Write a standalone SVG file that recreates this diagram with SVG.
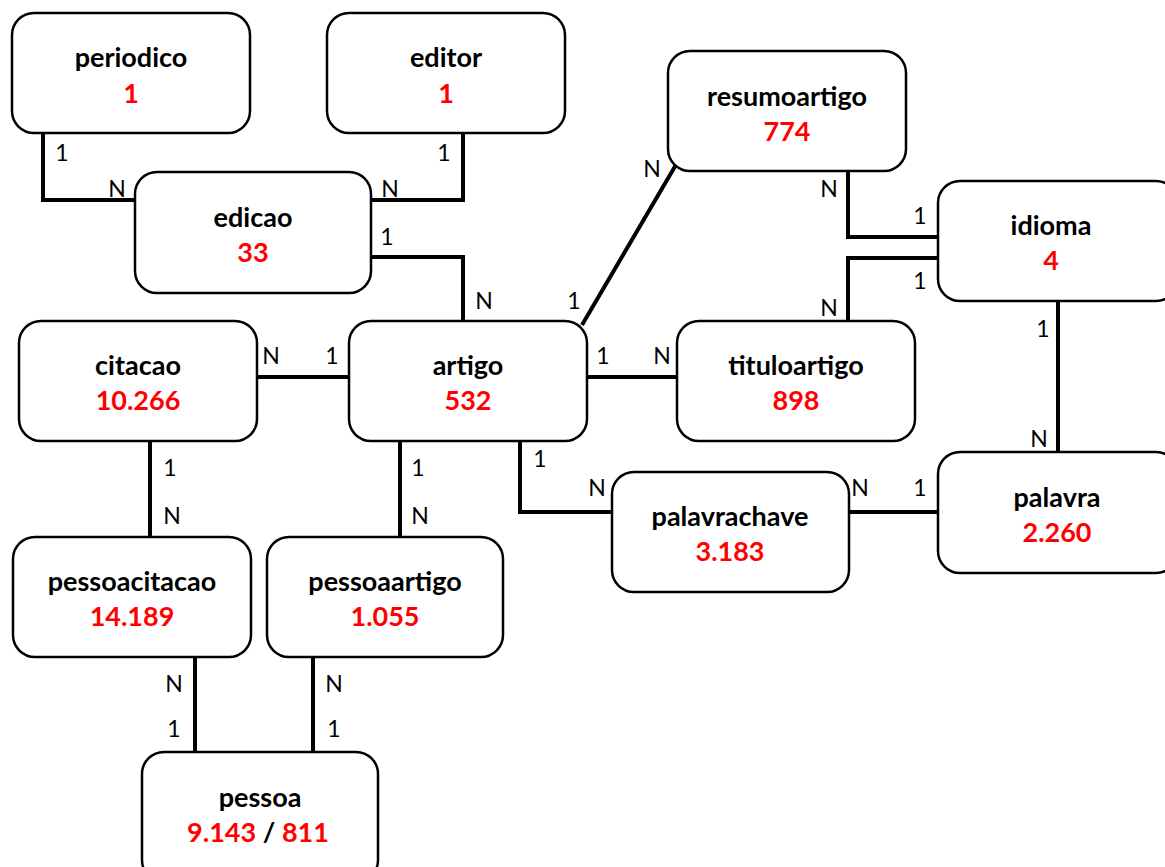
<svg xmlns="http://www.w3.org/2000/svg" width="1165" height="867" viewBox="0 0 1165 867">
<style>
.box{fill:#fff;stroke:#000;stroke-width:2.5}
.nm{font-family:Lato,"Open Sans",sans-serif;font-weight:bold;font-size:27px;fill:#000;text-anchor:middle}
.num{font-family:Lato,"Open Sans",sans-serif;font-weight:bold;font-size:27px;fill:#ff0000;text-anchor:middle}
.c{fill:none;stroke:#000;stroke-width:4}
.lb{font-family:Lato,"Open Sans",sans-serif;font-size:23px;fill:#000;text-anchor:middle}
</style>
<rect width="1165" height="867" fill="#fff"/>
<g id="connectors">
<polyline class="c" points="43,133 43,200 135,200"/>
<polyline class="c" points="463,133 463,200 371,200"/>
<polyline class="c" points="371,257 463,257 463,321"/>
<line class="c" x1="582" y1="325" x2="677" y2="163"/>
<polyline class="c" points="848,171 848,237 938,237"/>
<polyline class="c" points="848,321 848,258 938,258"/>
<line class="c" x1="1058" y1="301" x2="1058" y2="452"/>
<line class="c" x1="257" y1="377" x2="349" y2="377"/>
<line class="c" x1="587" y1="377" x2="677" y2="377"/>
<line class="c" x1="150" y1="441" x2="150" y2="537"/>
<line class="c" x1="400" y1="441" x2="400" y2="537"/>
<polyline class="c" points="520,441 520,512 612,512"/>
<line class="c" x1="849" y1="512" x2="938" y2="512"/>
<line class="c" x1="195" y1="657" x2="195" y2="752"/>
<line class="c" x1="313" y1="657" x2="313" y2="752"/>
<text class="lb" x="62" y="161">1</text>
<text class="lb" x="117" y="197">N</text>
<text class="lb" x="444" y="161">1</text>
<text class="lb" x="390" y="197">N</text>
<text class="lb" x="387" y="245">1</text>
<text class="lb" x="484" y="309">N</text>
<text class="lb" x="574" y="309">1</text>
<text class="lb" x="652" y="177">N</text>
<text class="lb" x="829" y="197">N</text>
<text class="lb" x="920" y="224">1</text>
<text class="lb" x="920" y="289">1</text>
<text class="lb" x="829" y="316">N</text>
<text class="lb" x="1043" y="337">1</text>
<text class="lb" x="1039" y="447">N</text>
<text class="lb" x="271" y="364">N</text>
<text class="lb" x="332" y="364">1</text>
<text class="lb" x="603" y="364">1</text>
<text class="lb" x="662" y="364">N</text>
<text class="lb" x="170" y="476">1</text>
<text class="lb" x="172" y="524">N</text>
<text class="lb" x="418" y="476">1</text>
<text class="lb" x="420" y="524">N</text>
<text class="lb" x="540" y="467">1</text>
<text class="lb" x="597" y="496">N</text>
<text class="lb" x="860" y="496">N</text>
<text class="lb" x="920" y="496">1</text>
<text class="lb" x="174" y="692">N</text>
<text class="lb" x="174" y="737">1</text>
<text class="lb" x="334" y="692">N</text>
<text class="lb" x="334" y="737">1</text>
</g>
<g id="periodico"><rect class="box" x="12" y="13" width="238" height="120" rx="22"/><text class="nm" x="131" y="67">periodico</text><text class="num" x="131" y="103">1</text></g>
<g id="editor"><rect class="box" x="327" y="13" width="238" height="120" rx="22"/><text class="nm" x="446" y="67">editor</text><text class="num" x="446" y="103">1</text></g>
<g id="edicao"><rect class="box" x="135" y="172" width="236" height="121" rx="22"/><text class="nm" x="253" y="227">edicao</text><text class="num" x="253" y="262">33</text></g>
<g id="resumoartigo"><rect class="box" x="668" y="51" width="238" height="120" rx="22"/><text class="nm" x="787" y="106">resumoartigo</text><text class="num" x="787" y="141">774</text></g>
<g id="idioma"><rect class="box" x="938" y="181" width="240" height="120" rx="22"/><text class="nm" x="1051" y="235">idioma</text><text class="num" x="1051" y="270">4</text></g>
<g id="citacao"><rect class="box" x="19" y="321" width="238" height="120" rx="22"/><text class="nm" x="138" y="375">citacao</text><text class="num" x="138" y="410">10.266</text></g>
<g id="artigo"><rect class="box" x="349" y="321" width="238" height="120" rx="22"/><text class="nm" x="468" y="375">artigo</text><text class="num" x="468" y="410">532</text></g>
<g id="tituloartigo"><rect class="box" x="677" y="321" width="238" height="120" rx="22"/><text class="nm" x="796" y="375">tituloartigo</text><text class="num" x="796" y="410">898</text></g>
<g id="palavrachave"><rect class="box" x="612" y="472" width="237" height="120" rx="22"/><text class="nm" x="730" y="526">palavrachave</text><text class="num" x="730" y="561">3.183</text></g>
<g id="palavra"><rect class="box" x="938" y="452" width="240" height="121" rx="22"/><text class="nm" x="1057" y="507">palavra</text><text class="num" x="1057" y="542">2.260</text></g>
<g id="pessoacitacao"><rect class="box" x="13" y="537" width="238" height="120" rx="22"/><text class="nm" x="132" y="591">pessoacitacao</text><text class="num" x="132" y="626">14.189</text></g>
<g id="pessoaartigo"><rect class="box" x="267" y="537" width="236" height="120" rx="22"/><text class="nm" x="385" y="591">pessoaartigo</text><text class="num" x="385" y="626">1.055</text></g>
<g id="pessoa"><rect class="box" x="142" y="752" width="236" height="130" rx="22"/><text class="nm" x="260" y="807">pessoa</text><text class="nm" x="258" y="842"><tspan fill="#ff0000">9.143</tspan> / <tspan fill="#ff0000">811</tspan></text></g>
</svg>
